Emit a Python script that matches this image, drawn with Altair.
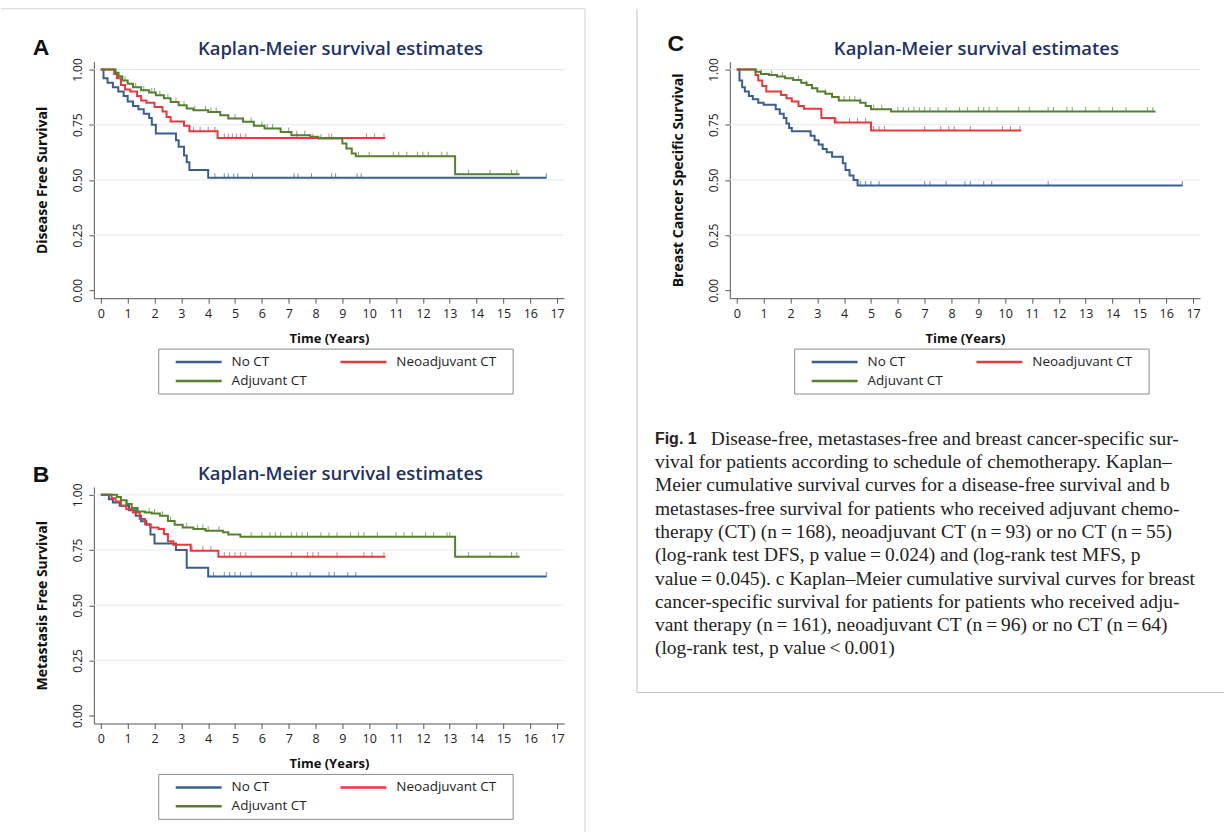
import altair as alt
import pandas as pd

SERIES = ["No CT", "Neoadjuvant CT", "Adjuvant CT"]
COLORS = ["#3b5f8c", "#e8383d", "#55802f"]

# ---------------- Panel A: Disease Free Survival ----------------
A_NOCT_T = [0, 0.1, 0.25, 0.45, 0.65, 0.85, 1.0, 1.2, 1.4, 1.6, 1.8, 1.9, 2.05, 2.8, 2.9, 3.1, 3.2, 3.3, 4.0, 16.6]
A_NOCT_S = [1.0, 0.96, 0.94, 0.92, 0.90, 0.88, 0.855, 0.835, 0.82, 0.80, 0.78, 0.75, 0.71, 0.68, 0.65, 0.61, 0.58, 0.545, 0.51, 0.51]
A_NEO_T = [0, 0.5, 0.6, 0.75, 0.9, 1.1, 1.35, 1.5, 1.7, 2.0, 2.3, 2.45, 2.6, 3.1, 3.3, 4.35, 10.6]
A_NEO_S = [1.0, 0.98, 0.96, 0.93, 0.91, 0.90, 0.88, 0.86, 0.85, 0.83, 0.81, 0.785, 0.765, 0.745, 0.72, 0.69, 0.69]
A_ADJ_T = [0, 0.55, 0.66, 0.8, 1.0, 1.2, 1.5, 1.8, 2.05, 2.35, 2.6, 2.9, 3.2, 3.45, 4.0, 4.45, 4.75, 5.3, 5.7, 6.1, 6.7, 7.1, 7.8, 8.1, 9.0, 9.15, 9.35, 9.5, 13.2, 15.6]
A_ADJ_S = [1.0, 0.985, 0.97, 0.95, 0.935, 0.92, 0.906, 0.896, 0.884, 0.87, 0.853, 0.838, 0.823, 0.816, 0.808, 0.793, 0.778, 0.763, 0.745, 0.733, 0.717, 0.702, 0.695, 0.687, 0.665, 0.642, 0.62, 0.607, 0.526, 0.526]
A_NOCT_C = [4.25, 4.6, 4.75, 4.95, 5.1, 5.65, 7.2, 7.35, 7.85, 8.6, 8.75, 9.55, 9.7, 16.6]
A_NEO_C = [3.45, 3.7, 4.0, 4.25, 4.6, 4.75, 4.9, 5.05, 5.2, 5.4, 7.3, 7.9, 8.5, 9.9, 10.2, 10.55]
A_ADJ_C = [0.9, 1.3, 1.6, 1.9, 2.0, 2.2, 2.5, 2.8, 3.1, 3.5, 3.9, 4.1, 4.3, 5.0, 5.3, 5.6, 6.0, 6.2, 6.4, 7.0, 7.3, 7.6,
           8.2, 8.6, 9.6, 10.0, 10.9, 11.1, 11.4, 11.8, 12.0, 12.2, 12.7, 12.9, 13.7, 14.5, 15.3, 15.5]

# ---------------- Panel B: Metastasis Free Survival ----------------
B_NOCT_T = [0, 0.3, 0.45, 0.7, 1.05, 1.3, 1.5, 1.7, 1.85, 2.0, 2.8, 3.2, 4.0, 16.6]
B_NOCT_S = [1.0, 0.98, 0.965, 0.95, 0.93, 0.905, 0.88, 0.865, 0.82, 0.78, 0.75, 0.67, 0.63, 0.63]
B_NEO_T = [0, 0.4, 0.55, 0.75, 0.95, 1.2, 1.45, 1.65, 1.85, 2.15, 2.35, 2.5, 2.7, 3.35, 4.38, 10.6]
B_NEO_S = [1.0, 0.985, 0.97, 0.95, 0.935, 0.92, 0.89, 0.867, 0.852, 0.845, 0.822, 0.79, 0.774, 0.747, 0.72, 0.72]
B_ADJ_T = [0, 0.6, 0.75, 0.95, 1.15, 1.35, 1.65, 1.9, 2.2, 2.5, 2.75, 3.05, 3.45, 3.9, 4.55, 4.75, 5.2, 13.2, 15.6]
B_ADJ_S = [1.0, 0.99, 0.975, 0.958, 0.94, 0.925, 0.92, 0.915, 0.905, 0.882, 0.864, 0.852, 0.845, 0.837, 0.83, 0.82, 0.81, 0.72, 0.72]
B_NOCT_C = [4.2, 4.6, 4.8, 5.0, 5.2, 5.6, 7.1, 7.3, 7.8, 8.5, 8.7, 9.2, 9.5, 16.6]
B_NEO_C = [3.4, 3.8, 4.1, 4.6, 4.8, 5.0, 5.2, 5.4, 7.1, 7.7, 7.9, 8.1, 8.8, 9.8, 10.1, 10.55]
B_ADJ_C = [1.0, 1.4, 1.8, 2.0, 2.3, 2.6, 3.2, 3.6, 3.8, 4.0, 4.4, 5.6, 6.0, 6.3, 6.5, 6.7, 7.1, 7.3, 7.5, 7.7, 8.2, 8.5,
           8.8, 9.3, 9.6, 9.8, 10.3, 11.0, 11.3, 11.6, 12.1, 12.4, 12.9, 13.0, 13.7, 14.5, 15.3, 15.5]

# ---------------- Panel C: Breast Cancer Specific Survival ----------------
C_NOCT_T = [0, 0.1, 0.2, 0.3, 0.45, 0.6, 0.8, 1.0, 1.45, 1.6, 1.75, 1.85, 1.95, 2.05, 2.75, 2.9, 3.05, 3.2, 3.35,
            3.55, 3.95, 4.05, 4.2, 4.35, 4.5, 16.6]
C_NOCT_S = [1.0, 0.95, 0.92, 0.90, 0.88, 0.865, 0.85, 0.84, 0.82, 0.80, 0.78, 0.755, 0.735, 0.72, 0.70, 0.68, 0.66,
            0.64, 0.625, 0.605, 0.575, 0.545, 0.52, 0.50, 0.475, 0.475]
C_NEO_T = [0, 0.7, 0.8, 0.95, 1.1, 1.65, 1.85, 2.05, 2.3, 2.5, 3.15, 3.65, 5.0, 10.6]
C_NEO_S = [1.0, 0.975, 0.95, 0.925, 0.90, 0.885, 0.87, 0.855, 0.835, 0.822, 0.78, 0.76, 0.724, 0.724]
C_ADJ_T = [0, 0.7, 0.9, 1.2, 1.5, 1.8, 2.1, 2.4, 2.6, 2.8, 3.0, 3.3, 3.55, 3.8, 4.6, 4.8, 5.0, 5.75, 15.6]
C_ADJ_S = [1.0, 0.99, 0.98, 0.975, 0.968, 0.96, 0.952, 0.94, 0.93, 0.915, 0.90, 0.89, 0.875, 0.86, 0.85, 0.835, 0.82, 0.81, 0.81]
C_NOCT_C = [4.6, 4.8, 5.0, 5.3, 7.0, 7.2, 7.8, 8.5, 8.7, 9.2, 9.5, 11.6, 16.6]
C_NEO_C = [3.7, 4.2, 4.5, 4.8, 5.1, 5.3, 5.5, 7.0, 7.6, 7.9, 8.1, 8.7, 9.9, 10.2, 10.55]
C_ADJ_C = [0.9, 1.3, 1.7, 2.3, 2.6, 3.0, 3.3, 4.0, 4.2, 4.4, 4.6, 5.1, 5.4, 6.0, 6.2, 6.4, 6.6, 6.8, 7.0, 7.2, 7.5,
           7.8, 8.3, 8.6, 9.0, 9.2, 9.4, 9.7, 10.5, 10.9, 11.6, 11.8, 12.3, 12.5, 13.0, 13.5, 14.0, 14.5, 15.3, 15.5]

X_TICKS = list(range(18))
Y_TICKS = [0.0, 0.25, 0.5, 0.75, 1.0]
GRID_Y = [0.25, 0.5, 0.75, 1.0]
TITLE = "Kaplan-Meier survival estimates"

CAPTION_LINES = [
    "Disease-free, metastases-free and breast cancer-specific sur-",
    "vival for patients according to schedule of chemotherapy. Kaplan–",
    "Meier cumulative survival curves for a disease-free survival and b",
    "metastases-free survival for patients who received adjuvant chemo-",
    "therapy (CT) (n\u2009=\u2009168), neoadjuvant CT (n\u2009=\u200993) or no CT (n\u2009=\u200955)",
    "(log-rank test DFS, p value\u2009=\u20090.024) and (log-rank test MFS, p",
    "value\u2009=\u20090.045). c Kaplan–Meier cumulative survival curves for breast",
    "cancer-specific survival for patients for patients who received adju-",
    "vant therapy (n\u2009=\u2009161), neoadjuvant CT (n\u2009=\u200996) or no CT (n\u2009=\u200964)",
    "(log-rank test, p value\u2009<\u20090.001)",
]

# ---------------- helpers ----------------
W, H = 471, 237
XDOM = [-0.26, 17.26]
YDOM = [-0.036, 1.036]
FONT = "Open Sans"


def curve_df(t, s, name):
    return pd.DataFrame({"t": t, "s": s, "group": name})


def censor_df(times, t, s, name):
    vals = []
    for c in times:
        v = s[0]
        for ti, si in zip(t, s):
            if ti <= c:
                v = si
        vals.append(v)
    return pd.DataFrame({"t": times, "s": vals, "group": name})


def one():
    return alt.Data(values=[{}])


xscale = alt.Scale(domain=XDOM, nice=False, zero=False)
yscale = alt.Scale(domain=YDOM, nice=False, zero=False)
cscale = alt.Scale(domain=SERIES, range=COLORS)

X_AXIS = alt.Axis(values=X_TICKS, title="Time (Years)", grid=False, tickSize=5,
                  labelPadding=4, labelFontSize=12.5, titleFontSize=13,
                  titleFontWeight="bold", titleY=40, titleBaseline="middle")


def y_axis(title):
    return alt.Axis(values=Y_TICKS, format=".2f", title=title, grid=False, tickSize=5,
                    labelAngle=270, labelAlign="center", labelBaseline="bottom",
                    labelPadding=4, labelFontSize=12, titleFontSize=14,
                    titleFontWeight="bold", titleAngle=270, titleX=-51, titleY=H / 2,
                    titleAlign="center", titleBaseline="middle")


def txt(x, y, text, **kw):
    return alt.Chart(one()).mark_text(**kw).encode(x=alt.value(x), y=alt.value(y), text=alt.value(text))


def hrule(x1, x2, y, color, sw=1):
    return alt.Chart(one()).mark_rule(color=color, strokeWidth=sw).encode(
        x=alt.value(x1), x2=alt.value(x2), y=alt.value(y))


def vrule(x, y1, y2, color, sw=1):
    return alt.Chart(one()).mark_rule(color=color, strokeWidth=sw).encode(
        x=alt.value(x), y=alt.value(y1), y2=alt.value(y2))


def legend_layers():
    layers = [alt.Chart(one()).mark_rect(fill="white", stroke="#8c8c8c", strokeWidth=1).encode(
        x=alt.value(65), x2=alt.value(420), y=alt.value(288), y2=alt.value(333))]
    pos = [(82, 301), (247, 301), (82, 320)]
    for name, col, (px, py) in zip(SERIES, COLORS, pos):
        layers.append(hrule(px, px + 46, py, col, 2.5))
        layers.append(txt(px + 56, py, name, align="left", baseline="middle", fontSize=13.5,
                          color="#222222", font=FONT))
    return layers


def panel(letter, ytitle, curves, censors, extra=None, letter_xy=(-53, -14)):
    lines = pd.concat([curve_df(*c) for c in curves], ignore_index=True)
    cens = pd.concat([censor_df(*c) for c in censors], ignore_index=True)
    yax = y_axis(ytitle)

    grid = alt.Chart(pd.DataFrame({"s": GRID_Y})).mark_rule(color="#e3eaee", strokeWidth=1).encode(
        y=alt.Y("s:Q", scale=yscale, axis=yax))

    main = alt.Chart(lines).mark_line(interpolate="step-after", strokeWidth=2).encode(
        x=alt.X("t:Q", scale=xscale, axis=X_AXIS),
        y=alt.Y("s:Q", scale=yscale, axis=yax),
        color=alt.Color("group:N", scale=cscale, legend=None),
        detail="group:N",
    )

    ticks = alt.Chart(cens).mark_tick(orient="vertical", size=5, thickness=1, yOffset=-2).encode(
        x=alt.X("t:Q", scale=xscale, axis=X_AXIS),
        y=alt.Y("s:Q", scale=yscale, axis=yax),
        color=alt.Color("group:N", scale=cscale, legend=None),
    )

    layers = [grid, main, ticks]
    if extra:
        layers += extra
    layers.append(txt(letter_xy[0], letter_xy[1], letter, fontSize=23, fontWeight="bold",
                      font="Liberation Sans", color="#111111", align="center", baseline="middle"))
    layers.append(txt(247, -13, TITLE, fontSize=18.5, font=FONT, color="#1f3262",
                      align="center", baseline="middle", fontWeight=600))
    layers += legend_layers()
    return alt.layer(*layers).properties(width=W, height=H)


border = "#d6d6d6"

panel_a = panel(
    "A", "Disease Free Survival",
    [(A_NOCT_T, A_NOCT_S, SERIES[0]), (A_NEO_T, A_NEO_S, SERIES[1]), (A_ADJ_T, A_ADJ_S, SERIES[2])],
    [(A_NOCT_C, A_NOCT_T, A_NOCT_S, SERIES[0]), (A_NEO_C, A_NEO_T, A_NEO_S, SERIES[1]),
     (A_ADJ_C, A_ADJ_T, A_ADJ_S, SERIES[2])],
    extra=[hrule(-93, 492, -53, border), vrule(492, -53, 772, border)],
)

panel_b = panel(
    "B", "Metastasis Free Survival",
    [(B_NOCT_T, B_NOCT_S, SERIES[0]), (B_NEO_T, B_NEO_S, SERIES[1]), (B_ADJ_T, B_ADJ_S, SERIES[2])],
    [(B_NOCT_C, B_NOCT_T, B_NOCT_S, SERIES[0]), (B_NEO_C, B_NEO_T, B_NEO_S, SERIES[1]),
     (B_ADJ_C, B_ADJ_T, B_ADJ_S, SERIES[2])],
    letter_xy=(-53, -12),
)

panel_c = panel(
    "C", "Breast Cancer Specific Survival",
    [(C_NOCT_T, C_NOCT_S, SERIES[0]), (C_NEO_T, C_NEO_S, SERIES[1]), (C_ADJ_T, C_ADJ_S, SERIES[2])],
    [(C_NOCT_C, C_NOCT_T, C_NOCT_S, SERIES[0]), (C_NEO_C, C_NEO_T, C_NEO_S, SERIES[1]),
     (C_ADJ_C, C_ADJ_T, C_ADJ_S, SERIES[2])],
    extra=[vrule(-93, -53, 632, "#c4c4c4"), hrule(-93, 495, 632, "#c4c4c4")],
    letter_xy=(-54, -18),
)

# caption sits in the grid cell below panel C (cell top at y=486)
cap_df = pd.DataFrame({"line": list(range(len(CAPTION_LINES))), "text": CAPTION_LINES})
cap_first = cap_df[cap_df["line"] == 0]
cap_rest = cap_df[cap_df["line"] > 0]
LINE0 = -48
cap_y = alt.Y("line:Q", scale=alt.Scale(domain=[0, 9], range=[LINE0, LINE0 + 9 * 23.3]), axis=None)

caption = alt.layer(
    txt(-75, LINE0, "Fig. 1", fontSize=16, fontWeight="bold", font="Liberation Sans",
        color="#222222", align="left", baseline="middle"),
    alt.Chart(cap_first).mark_text(align="left", baseline="middle", fontSize=19.5,
                                   font="Liberation Serif", color="#222222").encode(
        x=alt.value(-19), y=cap_y, text="text:N"),
    alt.Chart(cap_rest).mark_text(align="left", baseline="middle", fontSize=19.5,
                                  font="Liberation Serif", color="#222222").encode(
        x=alt.value(-75), y=cap_y, text="text:N"),
).properties(width=W, height=H)

chart = alt.concat(
    panel_a, panel_c, panel_b, caption,
    columns=2, spacing={"row": 189, "column": 166}, bounds="flush",
).properties(
    padding={"left": 0, "top": 7, "right": 0, "bottom": 0}
).configure(background="white", font=FONT).configure_view(stroke=None).configure_axis(
    domainColor="#555555", tickColor="#555555", labelColor="#222222", titleColor="#111111",
    labelFont=FONT, titleFont=FONT,
)

chart.save("out.html", embed_options={"renderer": "svg", "actions": False})
